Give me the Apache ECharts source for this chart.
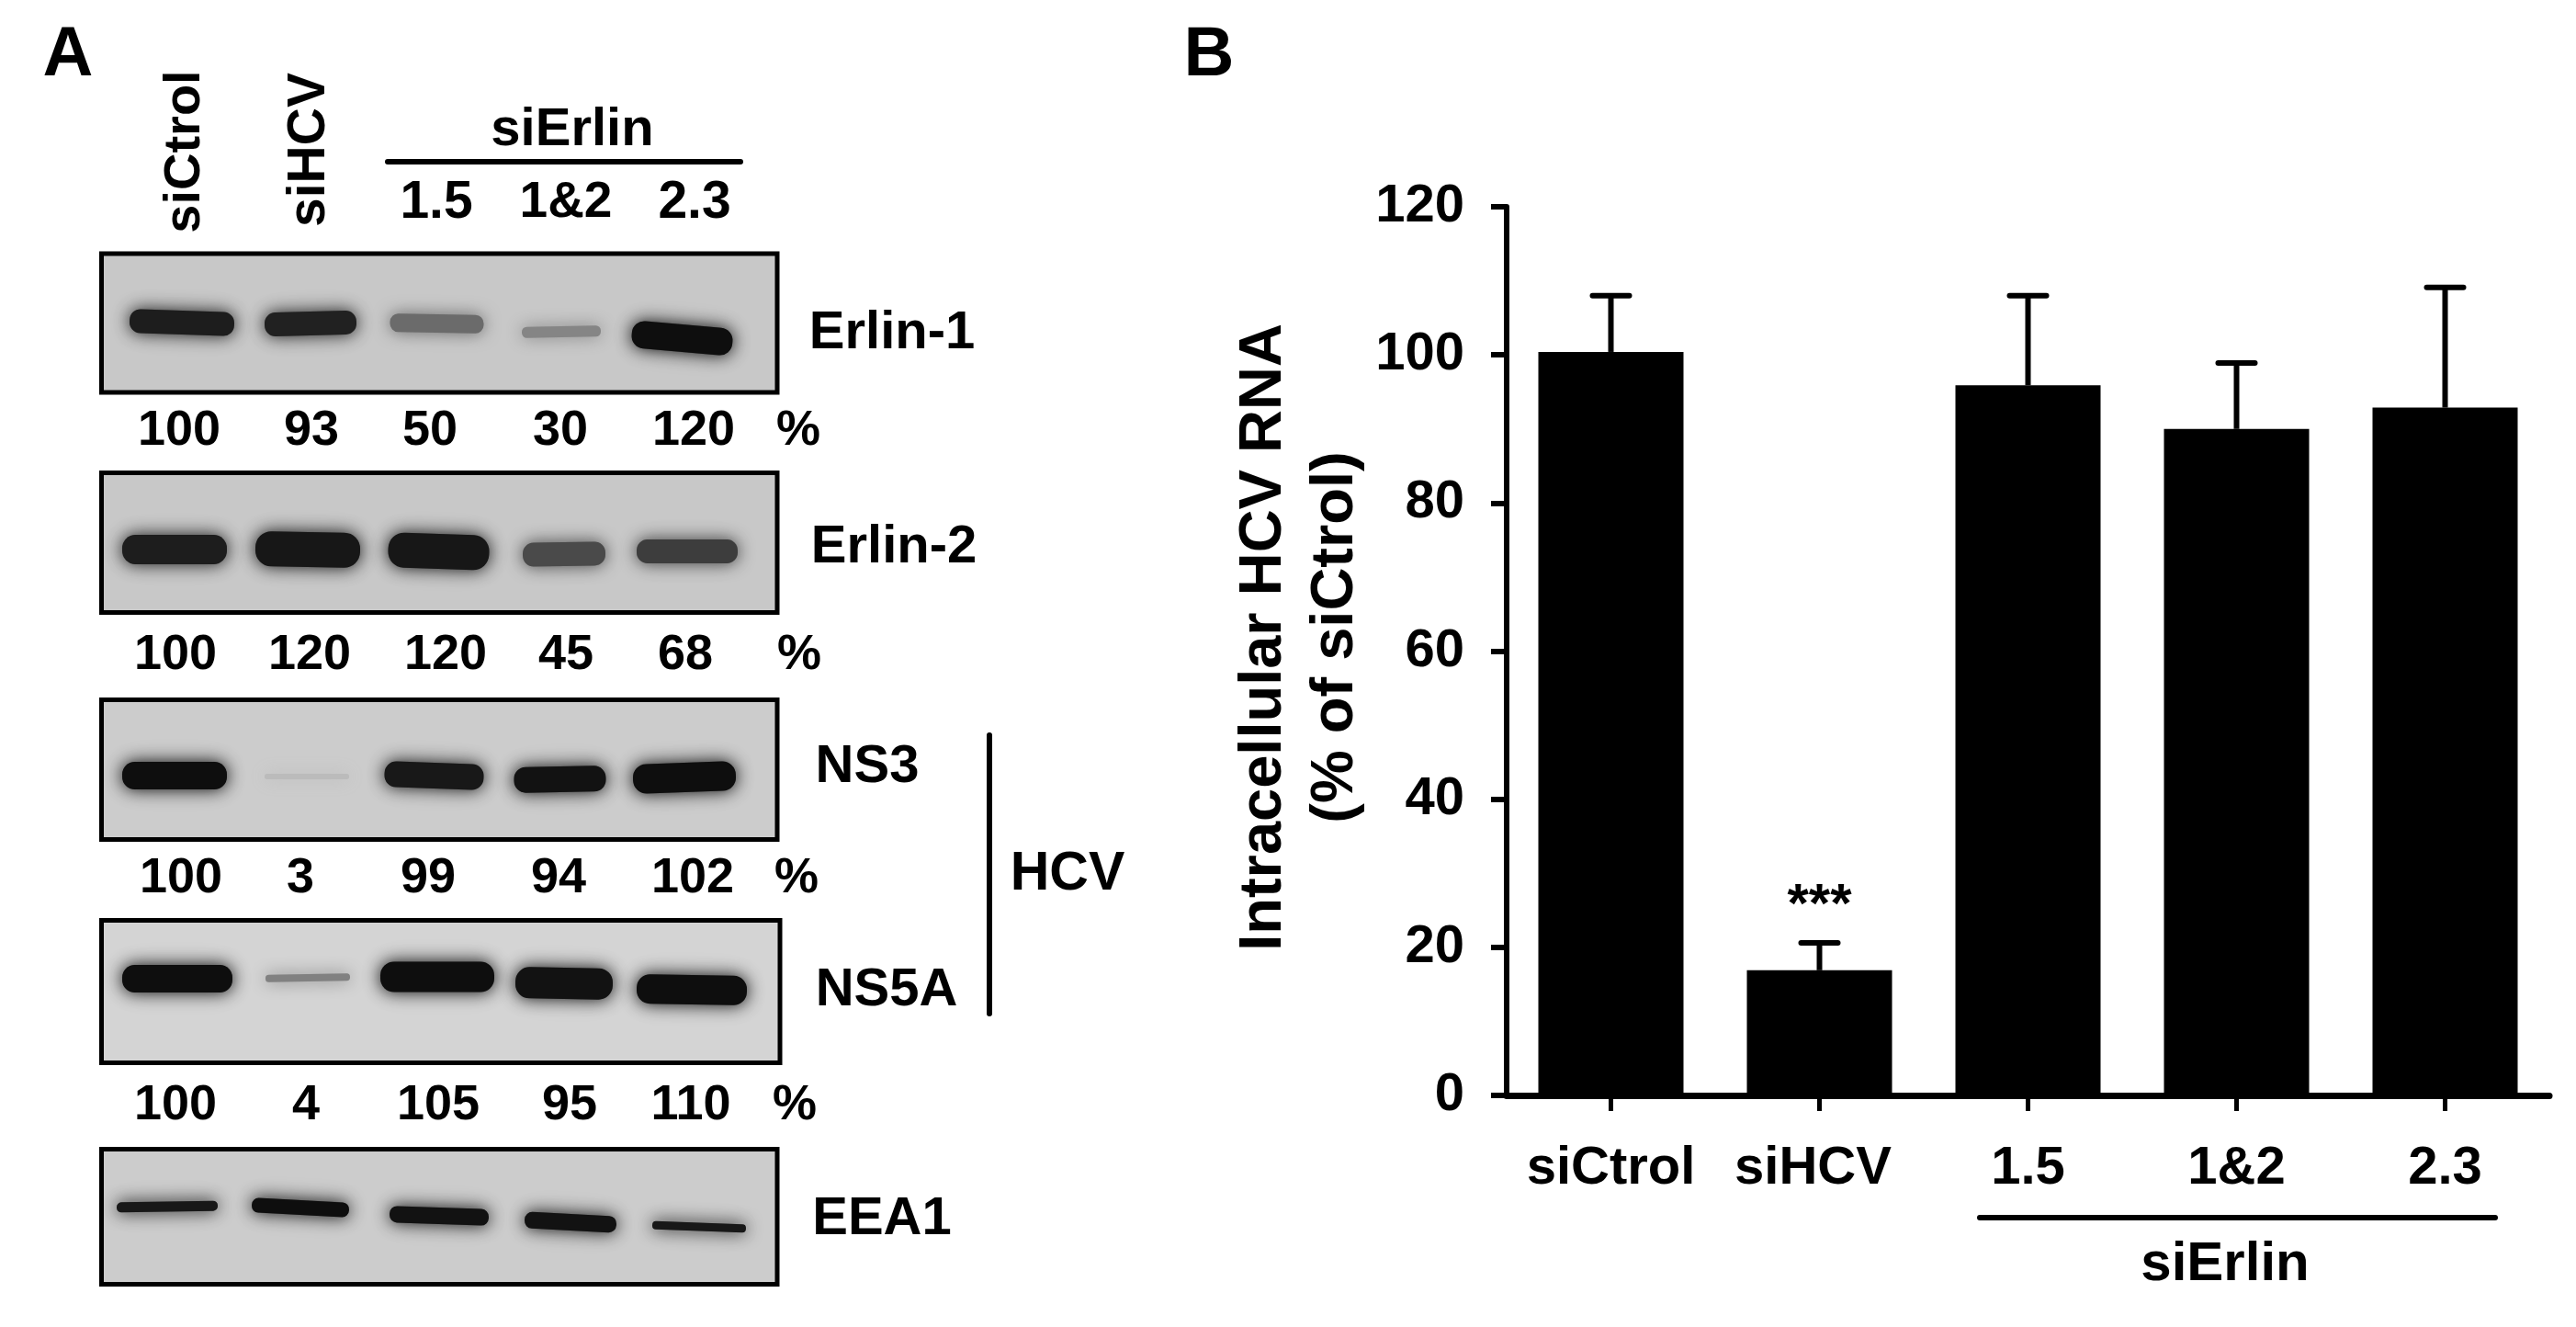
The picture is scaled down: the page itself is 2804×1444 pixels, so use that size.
<!DOCTYPE html>
<html>
<head>
<meta charset="utf-8">
<style>html,body{margin:0;padding:0;background:#fff}#c{width:2804px;height:1444px}</style>
<script src="https://cdn.jsdelivr.net/npm/echarts@6/dist/echarts.min.js"></script>
</head>
<body>
<div id="c"></div>
<script>
// ---- Panel B data ----
const categories = ['siCtrol', 'siHCV', '1.5', '1&2', '2.3'];
const rnaMean = [100.4, 16.9, 95.9, 90, 92.9];
const rnaUpper = [108, 20.6, 108, 98.9, 109.1];
const yTicks = { min: 0, max: 120, interval: 20 };

// ---- Panel A data: each band = [lane x, row y, span, thickness, density, tilt] in blot units ----
const bandsErlin1 = [[87.5,75,126,38,.92,-2],[227.5,76,112,38,.9,1.5],[365,76,114,32,.5,-1],[500.5,85,98,24,.36,1],[632,92,122,42,1,-5]];
const bandsErlin2 = [[79.5,83.5,126,44,.92,0],[224.5,83.5,126,50,.95,-1],[367,85.5,122,50,.95,-2],[503.5,88.5,102,38,.68,1],[637.5,85.5,122,38,.75,0]];
const bandsNS3 = [[79.5,82.5,126,42,1,0],[223.5,83.5,104,18,.09,0],[362,82.5,120,40,.95,-2],[499,86.5,112,40,.98,1],[634.5,84.5,124,44,1,2]];
const bandsNS5A = [[82.5,63.5,132,42,1,0],[224.5,62.5,104,20,.42,1],[365.5,61.5,136,45,1,0],[503.5,68.5,118,46,.98,-1],[642.5,75.5,132,44,1,-1]];
const bandsEEA1 = [[71.5,62.5,122,23,.95,1],[216.5,63.5,118,28,1,-3],[367.5,72.5,120,30,.98,-2],[510.5,79.5,112,30,.98,-3],[650.5,84.5,114,21,.95,-2]];

const pctErlin1 = ['100','93','50','30','120','%'];
const pctErlin2 = ['100','120','120','45','68','%'];
const pctNS3 = ['100','3','99','94','102','%'];
const pctNS5A = ['100','4','105','95','110','%'];
const pctXErlin1 = [84.5,228.5,357.5,499.5,644.5,758.5];
const pctXErlin2 = [80.5,226.5,374.5,505.5,635.5,759.5];
const pctXNS3 = [86.5,216.5,355.5,497.5,643.5,756.5];
const pctXNS5A = [80.5,222.5,366.5,509.5,641.5,754.5];
const proteinNames = ['Erlin-1','Erlin-2','NS3','NS5A','EEA1'];

// ---- Layout ----
const FONT = '"Liberation Sans", Arial, sans-serif';
const blots = [
  { top: 276, h: 151, w: 735.5, bg: 200, bands: bandsErlin1, pct: pctErlin1, pctX: pctXErlin1, pctY: 193 },
  { top: 514.5, h: 152, w: 735.5, bg: 200, bands: bandsErlin2, pct: pctErlin2, pctX: pctXErlin2, pctY: 198.5 },
  { top: 761.5, h: 152, w: 735.5, bg: 204, bands: bandsNS3, pct: pctNS3, pctX: pctXNS3, pctY: 194.5 },
  { top: 1001.5, h: 155, w: 738.5, bg: 212, bands: bandsNS5A, pct: pctNS5A, pctX: pctXNS5A, pctY: 201.5 },
  { top: 1250.5, h: 147, w: 735.5, bg: 204, bands: bandsEEA1, pct: null }
];
const BLOT_LEFT = 110.5;

const grids = [], xAxes = [], yAxes = [], series = [];
blots.forEach((b, i) => {
  grids.push({ left: BLOT_LEFT, top: b.top, width: b.w, height: b.h, show: true,
    backgroundColor: `rgb(${b.bg},${b.bg},${b.bg})`, borderColor: '#000', borderWidth: 5 });
  xAxes.push({ type: 'value', gridIndex: i, min: 0, max: b.w, show: false });
  yAxes.push({ type: 'value', gridIndex: i, min: 0, max: b.h, inverse: true, show: false });
  series.push({
    type: 'custom', xAxisIndex: i, yAxisIndex: i, clip: false, silent: true,
    data: b.bands,
    renderItem(params, api) {
      const c = api.coord([api.value(0), api.value(1)]);
      const w = api.size([api.value(2), 0])[0], h = api.size([0, api.value(3)])[1];
      const d = api.value(4), dark = 14;
      const v = Math.round(b.bg * (1 - d) + dark * d);
      const col = `rgb(${v},${v},${v})`;
      const halo = `rgba(${v},${v},${v},${0.3 * d})`;
      const cw = w - 12, ch = Math.max(4, h - 12);
      const rect = (style, r) => ({ type: 'rect', shape: { x: -cw / 2, y: -ch / 2, width: cw, height: ch, r }, style });
      return { type: 'group', x: c[0], y: c[1], rotation: api.value(5) * Math.PI / 180, children: [
        rect({ fill: halo, shadowBlur: 30, shadowColor: halo }, ch / 2),
        rect({ fill: col, shadowBlur: 18, shadowColor: col }, ch * 0.45)
      ] };
    }
  });
  if (b.pct) {
    series.push({
      type: 'custom', xAxisIndex: i, yAxisIndex: i, clip: false, silent: true,
      data: b.pct.map((t, k) => [b.pctX[k], b.pctY, t]),
      dimensions: ['x', 'y', { name: 't', type: 'ordinal' }],
      renderItem(params, api) {
        const c = api.coord([api.value(0), api.value(1)]);
        return { type: 'text', x: c[0], y: c[1],
          style: { text: b.pct[params.dataIndex], fill: '#000', align: 'center', verticalAlign: 'middle',
            font: `bold 54px ${FONT}` } };
      }
    });
  }
});

// Panel B
const gi = blots.length;
grids.push({ left: 1640, top: 225, width: 1135, height: 967, show: false });
xAxes.push({
  type: 'category', gridIndex: gi, data: categories,
  axisLine: { show: true, lineStyle: { color: '#000', width: 7 } },
  axisTick: { show: true, alignWithLabel: true, length: 17, lineStyle: { color: '#000', width: 5 } },
  axisLabel: { color: '#000', fontFamily: FONT, fontWeight: 'bold', fontSize: 58, margin: 51, interval: 0,
    formatter: (v) => v === categories[1] ? `{s|${v}}` : v,
    rich: { s: { color: '#000', fontFamily: FONT, fontWeight: 'bold', fontSize: 58, padding: [0, 14, 0, 0] } } }
});
yAxes.push({
  type: 'value', gridIndex: gi, min: yTicks.min, max: yTicks.max, interval: yTicks.interval,
  splitLine: { show: false },
  axisLine: { show: true, onZero: false, lineStyle: { color: '#000', width: 6 } },
  axisTick: { show: true, length: 17, lineStyle: { color: '#000', width: 6 } },
  axisLabel: { color: '#000', fontFamily: FONT, fontWeight: 'bold', fontSize: 58, margin: 46, padding: [14, 0, 0, 0] },
  name: 'Intracellular HCV RNA\n(% of siCtrol)', nameLocation: 'middle', nameRotate: 90, nameGap: 144,
  nameTextStyle: { color: '#000', fontFamily: FONT, fontWeight: 'bold', fontSize: 65, lineHeight: 78, padding: [0, 0, 0, 30] }
});
series.push({
  type: 'bar', xAxisIndex: gi, yAxisIndex: gi, data: rnaMean, barWidth: 158, silent: true,
  itemStyle: { color: '#000' }
});
series.push({
  type: 'custom', xAxisIndex: gi, yAxisIndex: gi, clip: false, silent: true, z: 3,
  data: rnaMean.map((m, i) => [i, m, rnaUpper[i]]),
  renderItem(params, api) {
    const base = api.coord([api.value(0), api.value(1)]);
    const top = api.coord([api.value(0), api.value(2)]);
    const st = { stroke: '#000', lineWidth: 6, lineCap: 'round' };
    return { type: 'group', children: [
      { type: 'line', shape: { x1: base[0], y1: base[1], x2: top[0], y2: top[1] }, style: { stroke: '#000', lineWidth: 6 } },
      { type: 'line', shape: { x1: top[0] - 20, y1: top[1], x2: top[0] + 20, y2: top[1] }, style: st }
    ] };
  }
});
// significance mark above siHCV
series.push({
  type: 'custom', xAxisIndex: gi, yAxisIndex: gi, clip: false, silent: true,
  data: [[1, 25.5]],
  renderItem(params, api) {
    const c = api.coord([api.value(0), api.value(1)]);
    return { type: 'text', x: c[0], y: c[1], style: { text: '***', fill: '#000', align: 'center', verticalAlign: 'middle', font: `bold 60px ${FONT}` } };
  }
});

function txt(text, x, y, size, rotate) {
  return { type: 'text', x, y, rotation: rotate ? Math.PI / 2 : 0,
    style: { text, fill: '#000', align: 'center', verticalAlign: 'middle', font: `bold ${size}px ${FONT}` } };
}
function rule(x1, y1, x2, y2) {
  return { type: 'line', shape: { x1, y1, x2, y2 }, style: { stroke: '#000', lineWidth: 6, lineCap: 'round' } };
}
const graphicEls = [
  txt('A', 74, 61, 76), txt('B', 1316, 61, 76),
  txt('siCtrol', 202, 165, 56, true), txt('siHCV', 337, 163, 57, true),
  txt('siErlin', 623, 142, 58), rule(422, 176, 806, 176),
  txt('1.5', 475, 221, 57), txt('1&2', 616, 221, 55), txt('2.3', 756, 221, 57),
  txt(proteinNames[0], 971, 363, 58), txt(proteinNames[1], 973, 596, 58),
  txt(proteinNames[2], 944, 835, 58), txt(proteinNames[3], 965, 1078, 58), txt(proteinNames[4], 960, 1327, 58),
  rule(1077, 800, 1077, 1103), txt('HCV', 1162, 952, 59),
  rule(2155, 1325, 2716, 1325), txt('siErlin', 2422, 1376, 60)
];

const chart = echarts.init(document.getElementById('c'), null, { width: 2804, height: 1444, renderer: 'canvas' });
chart.setOption({
  animation: false, backgroundColor: '#fff',
  grid: grids, xAxis: xAxes, yAxis: yAxes, series,
  graphic: { elements: graphicEls }
});
</script>
</body>
</html>
